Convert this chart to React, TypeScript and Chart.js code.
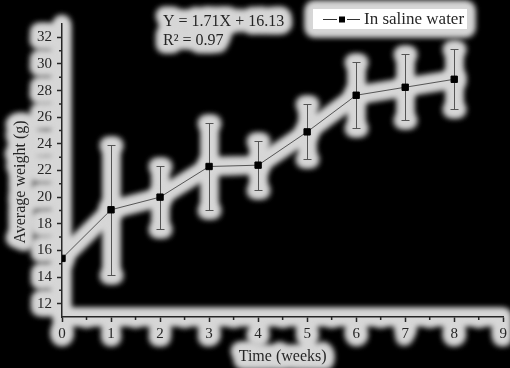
import React, { useEffect, useRef } from 'react';
import { Chart, registerables } from 'chart.js';

Chart.register(...registerables);

// Weekly mean body weight (g) with its error margin
const weeks = [0, 1, 2, 3, 4, 5, 6, 7, 8];
const meanWeight = [15.4, 19.05, 20.0, 22.3, 22.4, 24.9, 27.65, 28.25, 28.85];
const weightError = [0, 4.87, 2.37, 3.25, 1.85, 2.06, 2.47, 2.46, 2.24];

const xTicks = [0, 1, 2, 3, 4, 5, 6, 7, 8, 9];
const xMinorTicks = [0.5, 1.5, 2.5, 3.5, 4.5, 5.5, 6.5, 7.5, 8.5];
const yTicks = [12, 14, 16, 18, 20, 22, 24, 26, 28, 30, 32];
const yMinorTicks = [13, 15, 17, 19, 21, 23, 25, 27, 29, 31];

const seriesLabel = 'In saline water';
const fitEquation = 'Y = 1.71X + 16.13';
const fitR2 = 'R\u00B2 = 0.97';
const xTitle = 'Time (weeks)';
const yTitle = 'Average weight (g)';

const W = 510;
const H = 368;
const SERIF = "'Liberation Serif', 'Times New Roman', serif";
const INK = '#262626';

const decorations = {
  id: 'decorations',
  beforeDatasetsDraw(chart: any) {
    const { ctx, scales } = chart;
    const xs = scales.x;
    const ys = scales.y;
    ctx.save();
    ctx.strokeStyle = '#555';
    ctx.lineWidth = 1;
    weeks.forEach((w, i) => {
      const err = weightError[i];
      if (!err) return;
      const px = Math.round(xs.getPixelForValue(w)) + 0.5;
      const top = Math.round(ys.getPixelForValue(meanWeight[i] + err)) + 0.5;
      const bot = Math.round(ys.getPixelForValue(meanWeight[i] - err)) + 0.5;
      ctx.beginPath();
      ctx.moveTo(px, top);
      ctx.lineTo(px, bot);
      ctx.moveTo(px - 4, top);
      ctx.lineTo(px + 4, top);
      ctx.moveTo(px - 4, bot);
      ctx.lineTo(px + 4, bot);
      ctx.stroke();
    });
    ctx.restore();
  },
  afterDraw(chart: any) {
    const { ctx, scales, chartArea } = chart;
    const xs = scales.x;
    const ys = scales.y;
    ctx.save();

    // minor ticks
    ctx.strokeStyle = INK;
    ctx.lineWidth = 1.5;
    ctx.beginPath();
    yMinorTicks.forEach((v) => {
      const py = ys.getPixelForValue(v);
      ctx.moveTo(chartArea.left - 3, py);
      ctx.lineTo(chartArea.left, py);
    });
    xMinorTicks.forEach((v) => {
      const px = xs.getPixelForValue(v);
      ctx.moveTo(px, chartArea.bottom);
      ctx.lineTo(px, chartArea.bottom + 3);
    });
    ctx.stroke();

    // axis titles
    ctx.fillStyle = INK;
    ctx.font = `16px ${SERIF}`;
    ctx.textAlign = 'center';
    ctx.textBaseline = 'middle';
    ctx.fillText(xTitle, (chartArea.left + chartArea.right) / 2, 357);
    ctx.save();
    ctx.translate(21, 182);
    ctx.rotate(-Math.PI / 2);
    ctx.fillText(yTitle, 0, 0);
    ctx.restore();

    // regression equation
    ctx.textAlign = 'left';
    ctx.fillText(fitEquation, 163, 22);
    ctx.fillText(fitR2, 163, 41);

    // legend
    ctx.fillStyle = '#fff';
    ctx.fillRect(313, 9, 154, 20);
    ctx.strokeStyle = '#333';
    ctx.lineWidth = 1;
    ctx.beginPath();
    ctx.moveTo(323, 19.5);
    ctx.lineTo(337, 19.5);
    ctx.moveTo(347, 19.5);
    ctx.lineTo(360, 19.5);
    ctx.stroke();
    ctx.fillStyle = '#000';
    ctx.fillRect(339, 16.5, 6, 6);
    ctx.fillStyle = INK;
    ctx.font = `17px ${SERIF}`;
    ctx.fillText(seriesLabel, 364, 20);

    ctx.restore();
  },
};

// Soft light halo painted behind everything the chart drew
function paintHalo(source: HTMLCanvasElement, target: HTMLCanvasElement) {
  const mask = document.createElement('canvas');
  mask.width = W;
  mask.height = H;
  const m = mask.getContext('2d');
  if (!m) return;
  for (const r of [1, 2, 3, 4, 5, 6, 7]) {
    for (let a = 0; a < 360; a += 15) {
      const rad = (a * Math.PI) / 180;
      m.drawImage(source, r * Math.cos(rad), r * Math.sin(rad));
    }
  }
  m.drawImage(source, 0, 0);
  m.globalCompositeOperation = 'source-in';
  m.fillStyle = '#d6d6d6';
  m.fillRect(0, 0, W, H);

  const t = target.getContext('2d');
  if (!t) return;
  t.clearRect(0, 0, W, H);
  t.filter = 'blur(3px)';
  t.drawImage(mask, 0, 0);
  t.drawImage(mask, 0, 0);
  t.filter = 'none';
}

export default function App() {
  const canvasRef = useRef<HTMLCanvasElement | null>(null);
  const haloRef = useRef<HTMLCanvasElement | null>(null);

  useEffect(() => {
    document.body.style.margin = '0';
    document.body.style.background = '#000';
    const canvas = canvasRef.current;
    const halo = haloRef.current;
    if (!canvas || !halo) return;

    const chart = new Chart(canvas, {
      type: 'line',
      data: {
        datasets: [
          {
            label: seriesLabel,
            data: weeks.map((w, i) => ({ x: w, y: meanWeight[i] })),
            borderColor: '#555',
            borderWidth: 1,
            pointStyle: 'rect',
            pointRadius: 4.5,
            pointBackgroundColor: '#000',
            pointBorderColor: '#000',
            pointBorderWidth: 1,
            clip: 0,
            tension: 0,
          },
        ],
      },
      options: {
        animation: false,
        responsive: false,
        devicePixelRatio: 1,
        layout: { padding: { top: 24, right: 4, left: 0, bottom: 0 } },
        plugins: {
          legend: { display: false },
          tooltip: { enabled: false },
        },
        scales: {
          x: {
            type: 'linear',
            min: 0,
            max: 9,
            afterBuildTicks: (scale: any) => {
              scale.ticks = xTicks.map((v) => ({ value: v }));
            },
            afterFit: (scale: any) => {
              scale.height = 51;
            },
            grid: {
              drawOnChartArea: false,
              drawTicks: true,
              tickLength: 5,
              tickColor: INK,
              tickWidth: 1.5,
            },
            border: { display: true, color: INK, width: 1.5 },
            ticks: {
              color: INK,
              font: { family: SERIF, size: 15 },
              padding: 3,
              maxRotation: 0,
              autoSkip: false,
            },
          },
          y: {
            type: 'linear',
            min: 11,
            max: 33,
            afterBuildTicks: (scale: any) => {
              scale.ticks = yTicks.map((v) => ({ value: v }));
            },
            afterFit: (scale: any) => {
              scale.width = 62;
            },
            grid: {
              drawOnChartArea: false,
              drawTicks: true,
              tickLength: 5,
              tickColor: INK,
              tickWidth: 1.5,
            },
            border: { display: true, color: INK, width: 1.5 },
            ticks: {
              color: INK,
              font: { family: SERIF, size: 15 },
              padding: 5,
              autoSkip: false,
            },
          },
        },
      },
      plugins: [decorations],
    });

    paintHalo(canvas, halo);

    return () => chart.destroy();
  }, []);

  return (
    <div style={{ width: W, height: H, background: '#000', position: 'relative' }}>
      <canvas
        ref={haloRef}
        width={W}
        height={H}
        style={{ position: 'absolute', left: 0, top: 0 }}
      />
      <canvas
        ref={canvasRef}
        width={W}
        height={H}
        style={{ position: 'absolute', left: 0, top: 0, width: W, height: H }}
      />
    </div>
  );
}
